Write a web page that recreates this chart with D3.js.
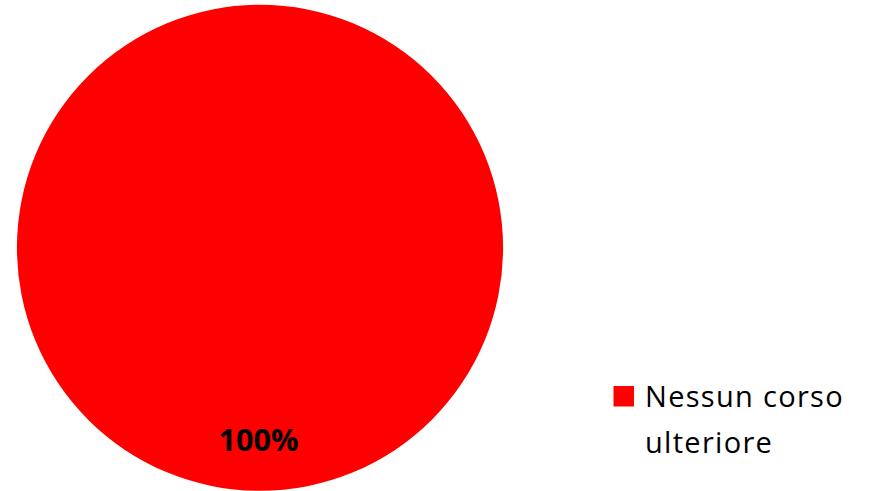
<!DOCTYPE html>
<html><head><meta charset="utf-8">
<script src="https://cdn.jsdelivr.net/npm/d3@7"></script>
<style>html,body{margin:0;padding:0;background:#fff;}svg{display:block;}</style>
</head><body>
<svg id="chart" width="869" height="491"></svg>
<script>
const categories = ["Nessun corso ulteriore"];
const values = [100];
const labels = ["100%"];
const colors = ["#FF0000"];

const svg = d3.select("#chart");
const cx = 260, cy = 247.8, r = 243;
const pie = d3.pie().sort(null).startAngle(0).endAngle(2*Math.PI)(values);
const arc = d3.arc().innerRadius(0).outerRadius(r);
const g = svg.append("g").attr("transform", `translate(${cx},${cy})`);
g.selectAll("path").data(pie).join("path")
  .attr("d", arc).attr("fill", (d,i)=>colors[i]);
g.selectAll("text").data(pie).join("text")
  .attr("x", -1.5).attr("y", 203.5)
  .attr("text-anchor", "middle")
  .style("font-family", "'Open Sans', sans-serif")
  .style("font-weight", "bold").style("font-size", "30.5px")
  .attr("fill", "#000")
  .text((d,i)=>labels[i]);

const leg = svg.append("g").attr("transform", "translate(613.5,386)");
leg.selectAll("rect").data(categories).join("rect")
  .attr("width", 20.5).attr("height", 20.5).attr("fill", (d,i)=>colors[i]);
const t = leg.append("text")
  .style("font-family", "'Open Sans', sans-serif")
  .style("font-size", "29px").style("letter-spacing", "1.3px").attr("fill", "#000");
t.append("tspan").attr("x", 31.5).attr("y", 20.7).text("Nessun corso");
t.append("tspan").attr("x", 31.5).attr("y", 67.3).text("ulteriore");
</script>
</body></html>
